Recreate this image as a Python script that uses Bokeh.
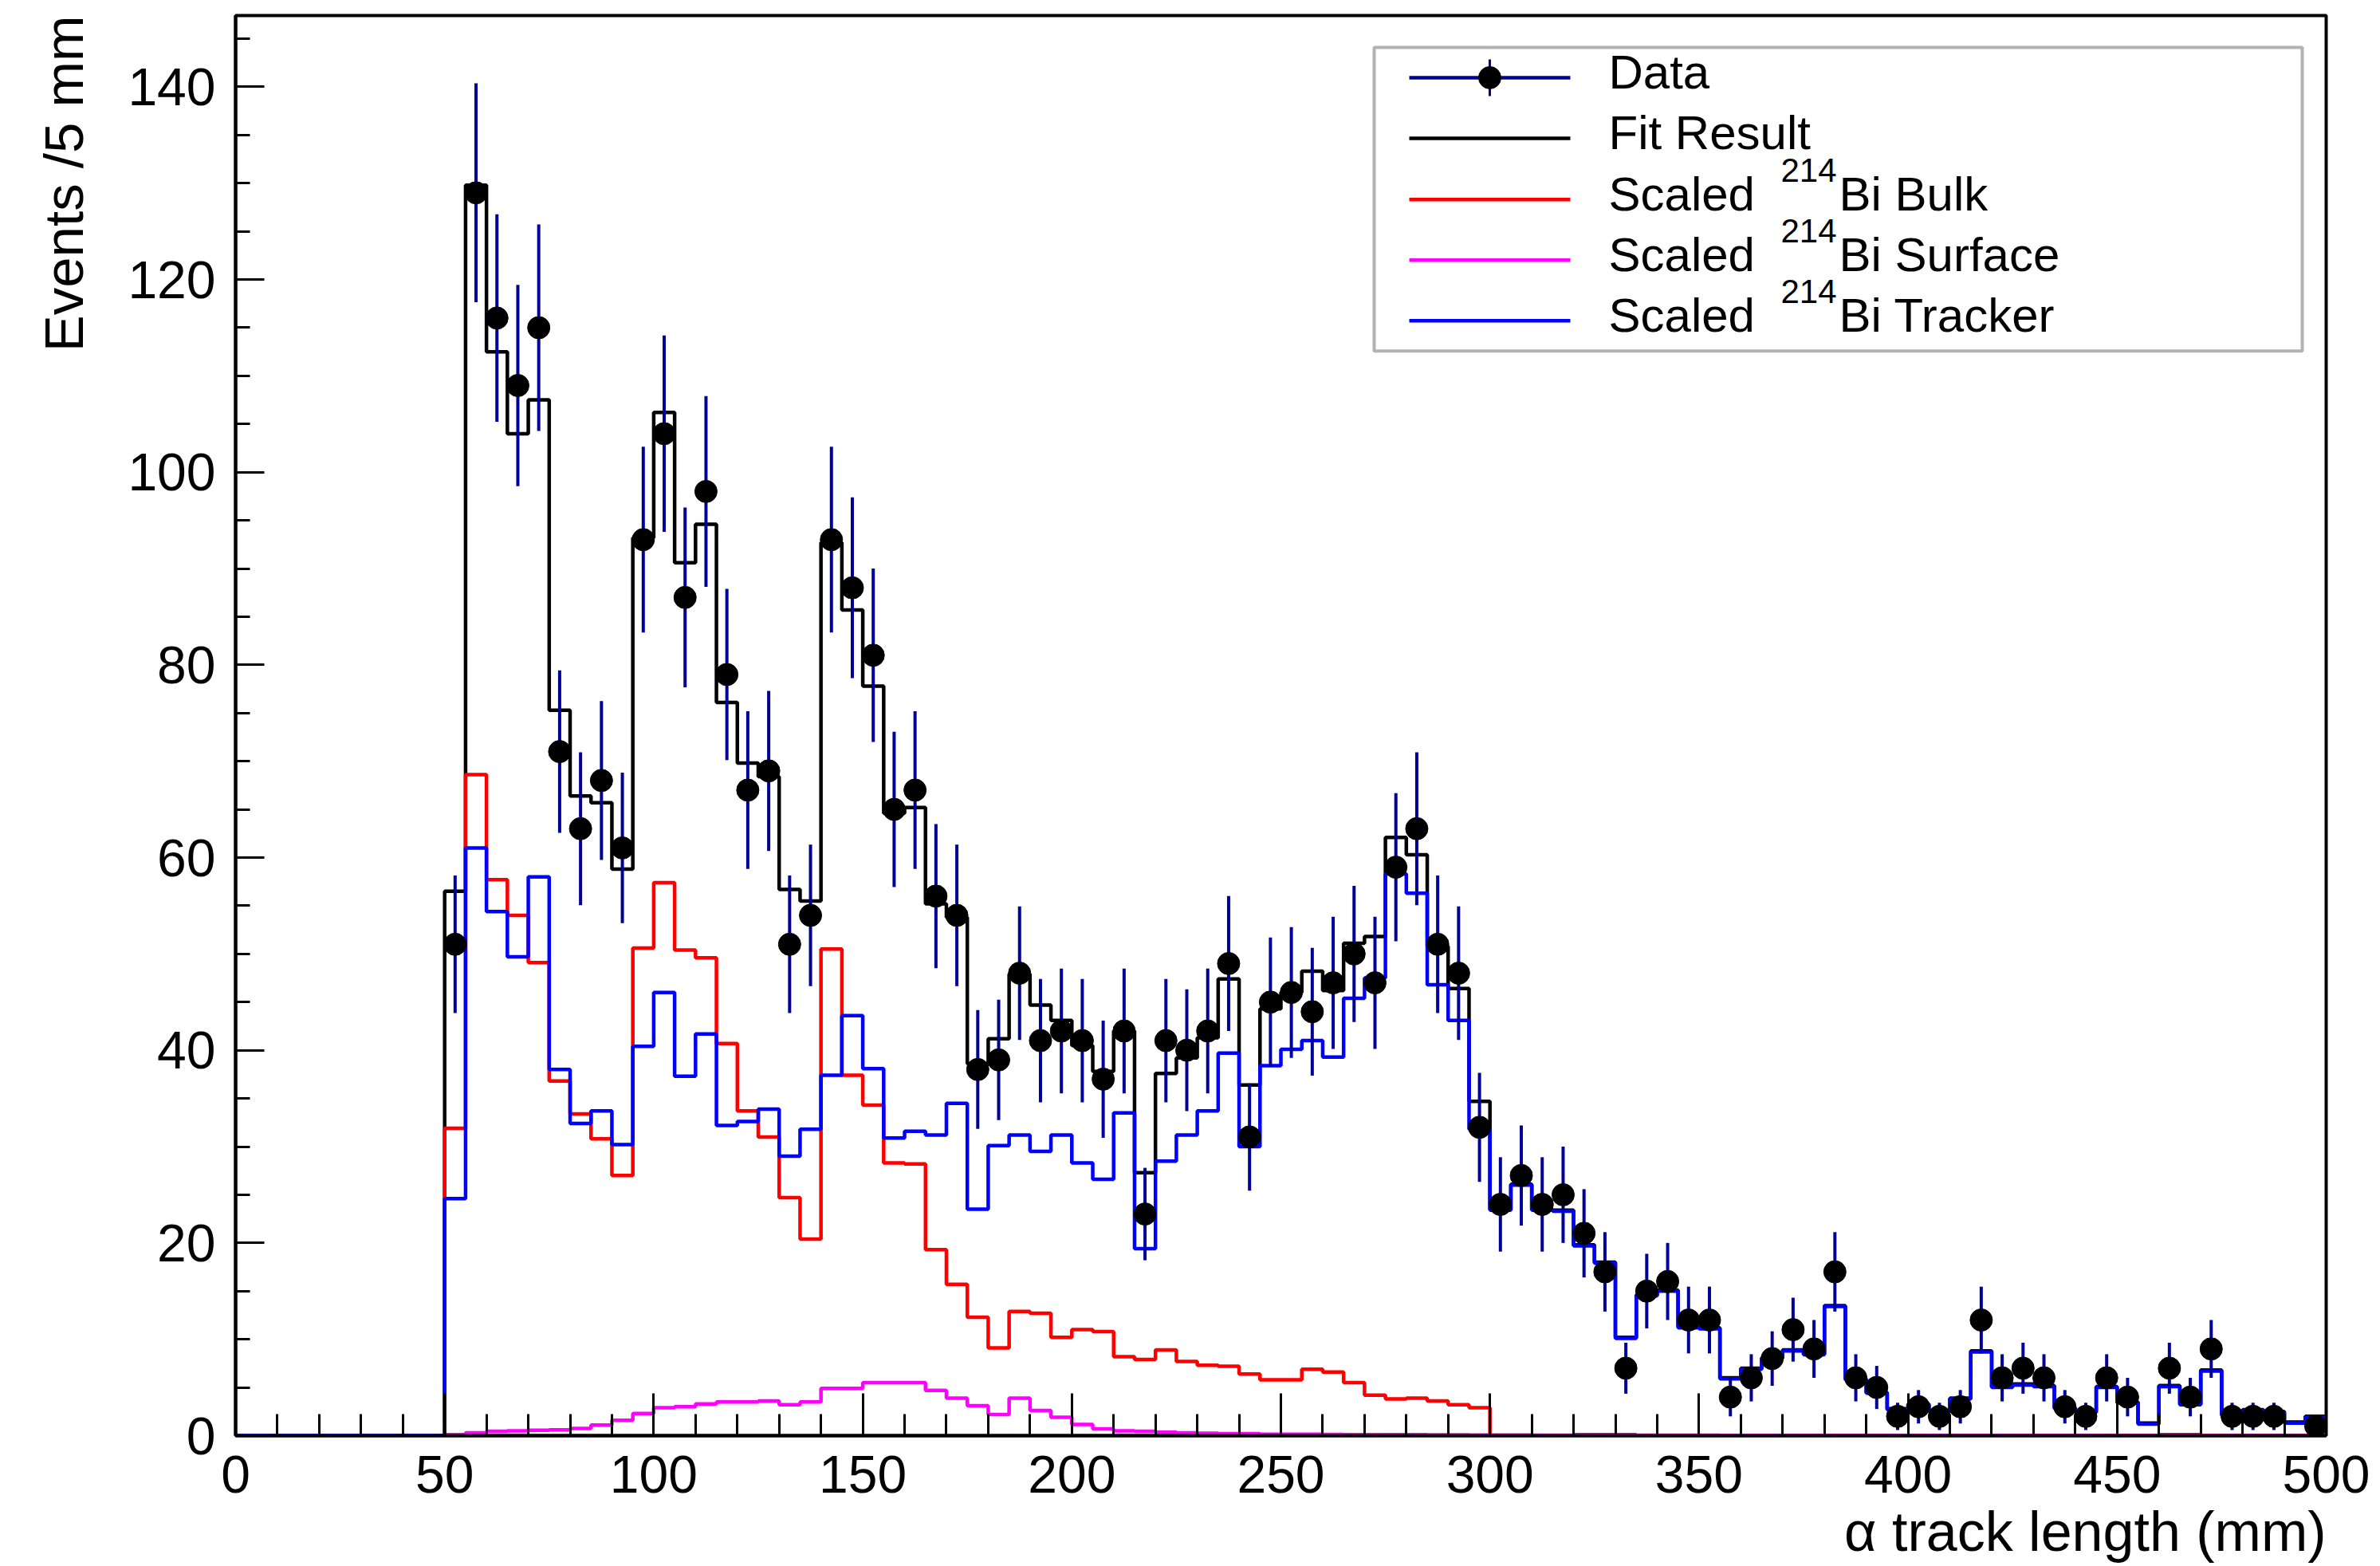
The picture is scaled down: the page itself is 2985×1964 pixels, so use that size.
import numpy as np
from bokeh.plotting import figure
from bokeh.models import Range1d, SingleIntervalTicker, Label, BoxAnnotation, Title
from bokeh.embed import file_html
from bokeh.resources import INLINE

# ---- histogram binning (mm) ----
bin_width = 5
x_lo, x_hi = 0, 500
y_top = 147.4
empty_bins_below_50mm = 10     # bins 0-50 mm carry no entries

# ---- per-bin contents, bins 50-55, 55-60, ..., 495-500 mm ----
data_counts = [
    51, 129, 116, 109, 115, 71, 63, 68, 61, 93,
    104, 87, 98, 79, 67, 69, 51, 54, 93, 88,
    81, 65, 67, 56, 54, 38, 39, 48, 41, 42,
    41, 37, 42, 23, 41, 40, 42, 49, 31, 45,
    46, 44, 47, 50, 47, 59, 63, 51, 48, 32,
    24, 27, 24, 25, 21, 17, 7, 15, 16, 12,
    12, 4, 6, 8, 11, 9, 17, 6, 5, 2,
    3, 2, 3, 12, 6, 7, 6, 3, 2, 6,
    4, 0, 7, 4, 9, 2, 2, 2, 0, 1,
]

fit_result = [
    56.5, 129.8, 112.5, 104.0, 107.5, 75.3, 66.4, 65.7, 58.8, 93.2,
    106.2, 90.6, 94.6, 76.1, 69.8, 68.4, 56.7, 55.5, 92.7, 85.7,
    77.8, 64.6, 65.2, 55.2, 53.8, 38.6, 41.2, 47.9, 44.7, 43.1,
    40.5, 37.8, 42.0, 27.3, 37.6, 39.2, 41.3, 47.4, 36.4, 44.3,
    46.0, 48.2, 46.2, 51.1, 51.8, 62.1, 60.3, 50.8, 46.4, 34.7,
    23.5, 26.1, 23.5, 23.4, 19.8, 18.0, 10.2, 14.6, 15.1, 11.3,
    11.2, 6.0, 7.0, 8.1, 8.9, 8.5, 13.5, 5.9, 4.5, 2.8,
    3.3, 2.6, 3.9, 8.8, 5.1, 5.35, 5.2, 2.9, 2.5, 5.1,
    3.5, 1.3, 5.2, 3.3, 6.8, 2.2, 2.7, 2.5, 1.4, 2.0,
]

bulk_bi214 = [
    31.9, 68.6, 57.7, 54.0, 49.1, 36.8, 33.4, 30.8, 27.0, 50.6,
    57.4, 50.4, 49.6, 40.7, 33.7, 31.0, 24.7, 20.4, 50.5, 37.4,
    34.3, 28.3, 28.2, 19.3, 15.7, 12.3, 9.1, 12.9, 12.7, 10.2,
    11.0, 10.8, 8.2, 7.9, 8.9, 7.7, 7.3, 7.2, 6.4, 5.8,
    5.8, 6.9, 6.6, 5.5, 4.2, 3.8, 3.9, 3.6, 3.2, 2.9,
    0.0, 0.0, 0.0, 0.0, 0.1, 0.1, 0.1, 0.0, 0.0, 0.0,
    0.0, 0.0, 0.0, 0.0, 0.0, 0.0, 0.0, 0.0, 0.0, 0.0,
    0.0, 0.0, 0.0, 0.0, 0.0, 0.0, 0.0, 0.0, 0.0, 0.0,
    0.0, 0.0, 0.1, 0.1, 0.0, 0.0, 0.0, 0.0, 0.0, 0.0,
]

surface_bi214 = [
    0.1, 0.3, 0.45, 0.5, 0.55, 0.6, 0.75, 1.1, 1.6, 2.3,
    2.9, 3.0, 3.3, 3.5, 3.5, 3.6, 3.2, 3.5, 4.9, 4.9,
    5.5, 5.5, 5.5, 4.7, 3.9, 3.1, 2.2, 3.9, 2.6, 1.9,
    1.15, 0.7, 0.5, 0.45, 0.35, 0.3, 0.25, 0.2, 0.2, 0.15,
    0.15, 0.15, 0.12, 0.1, 0.1, 0.1, 0.1, 0.08, 0.08, 0.07,
    0.06, 0.06, 0.05, 0.05, 0.05, 0.05, 0.04, 0.04, 0.04, 0.04,
    0.04, 0.03, 0.03, 0.03, 0.03, 0.03, 0.03, 0.02, 0.02, 0.02,
    0.02, 0.02, 0.02, 0.02, 0.02, 0.02, 0.02, 0.02, 0.01, 0.01,
    0.01, 0.01, 0.01, 0.01, 0.01, 0.01, 0.01, 0.01, 0.01, 0.01,
]

tracker_bi214 = [
    24.6, 61.0, 54.4, 49.7, 58.0, 38.0, 32.4, 33.7, 30.2, 40.4,
    46.0, 37.3, 41.7, 32.2, 32.6, 33.9, 29.0, 31.8, 37.4, 43.6,
    38.1, 30.9, 31.6, 31.2, 34.5, 23.5, 30.1, 31.2, 29.5, 31.2,
    28.3, 26.6, 33.5, 19.4, 28.5, 31.2, 33.7, 39.7, 30.0, 38.4,
    40.1, 41.0, 39.3, 45.4, 47.5, 58.3, 56.3, 46.8, 43.1, 31.8,
    23.4, 26.0, 23.4, 23.3, 19.7, 17.9, 10.1, 14.5, 15.0, 11.2,
    11.1, 5.9, 6.9, 8.0, 8.8, 8.4, 13.4, 5.8, 4.4, 2.7,
    3.2, 2.5, 3.8, 8.7, 5.0, 5.25, 5.1, 2.8, 2.4, 5.0,
    3.4, 1.2, 5.1, 3.2, 6.7, 2.1, 2.6, 2.4, 1.3, 1.9,
]

legend_labels = ["Data", "Fit Result", "Bulk", "Surface", "Tracker"]

# ---- canvas / frame geometry (pixels) ----
W, H = 2985, 1964
FRAME_L, FRAME_R, FRAME_T, FRAME_B = 295, 2917, 19, 1801
FONT = "Liberation Sans"


def sx(px):
    """horizontal canvas pixel -> x data value"""
    return x_lo + (px - FRAME_L) * (x_hi - x_lo) / (FRAME_R - FRAME_L)


def sy(py):
    """vertical canvas pixel (from top) -> y data value"""
    return y_top * (FRAME_B - py) / (FRAME_B - FRAME_T)


def full_hist(values):
    return np.concatenate([np.zeros(empty_bins_below_50mm), np.asarray(values, float)])


edges = np.arange(x_lo, x_hi + bin_width, bin_width)
centers = edges[:-1] + bin_width / 2

p = figure(
    width=W, height=H,
    min_border_left=FRAME_L, min_border_right=W - FRAME_R,
    min_border_top=FRAME_T, min_border_bottom=H - FRAME_B,
    x_range=Range1d(x_lo, x_hi), y_range=Range1d(0, y_top),
    output_backend="svg", toolbar_location=None, tools="",
    background_fill_color="white", border_fill_color="white",
)
p.xgrid.visible = False
p.ygrid.visible = False
p.outline_line_color = "black"
p.outline_line_width = 4

# axes: ROOT-like inward ticks
p.xaxis.ticker = SingleIntervalTicker(interval=50, num_minor_ticks=5)
p.yaxis.ticker = SingleIntervalTicker(interval=20, num_minor_ticks=4)
for ax, maj, mnr in ((p.xaxis, 53, 27), (p.yaxis, 36, 18)):
    ax.axis_line_color = "black"
    ax.axis_line_width = 4
    ax.major_tick_in = maj
    ax.major_tick_out = 0
    ax.minor_tick_in = mnr
    ax.minor_tick_out = 0
    ax.major_tick_line_width = 3
    ax.minor_tick_line_width = 3
    ax.major_tick_line_color = "black"
    ax.minor_tick_line_color = "black"
    ax.major_label_text_font = FONT
    ax.major_label_text_font_size = "66px"
    ax.major_label_text_color = "black"
p.xaxis.major_label_standoff = 25
p.yaxis.major_label_standoff = 25

# axis titles, right/top aligned as in ROOT
p.add_layout(Title(text="\u03b1 track length (mm)", align="right", standoff=10,
                   text_font=FONT, text_font_size="70px", text_font_style="normal",
                   text_color="black"), "below")
p.add_layout(Title(text="Events /5 mm", align="right", standoff=78,
                   text_font=FONT, text_font_size="69px", text_font_style="normal",
                   text_color="black"), "left")

# ---- histograms (drawn as steps) ----
def draw_hist(values, color):
    v = full_hist(values)
    p.step(edges, np.append(v, v[-1]), mode="after", line_color=color, line_width=4.5)


draw_hist(fit_result, "black")
draw_hist(bulk_bi214, "#ff0000")
draw_hist(surface_bi214, "#ff00ff")
draw_hist(tracker_bi214, "#0000ff")

# ---- data points with Poisson error bars ----
counts = full_hist(data_counts)
filled = counts > 0
xc = centers[filled]
yc = counts[filled]
err = np.sqrt(yc)
p.segment(x0=xc, y0=yc - err, x1=xc, y1=yc + err, line_color="#000099", line_width=4)
p.scatter(x=xc, y=yc, size=28, marker="circle", fill_color="black", line_color="black")

# ---- legend ----
p.add_layout(BoxAnnotation(left=sx(1723), right=sx(2887), top=sy(59), bottom=sy(440),
                           fill_color="white", fill_alpha=1.0,
                           line_color="black", line_width=4, level="underlay"))

row_py = [97, 173, 250, 326, 402]
line_x0, line_x1, text_x = sx(1767), sx(1969), sx(2017)
row_colors = ["#000099", "black", "#ff0000", "#ff00ff", "#0000ff"]

ly = [sy(v) for v in row_py]
p.segment(x0=[line_x0] * 5, y0=ly, x1=[line_x1] * 5, y1=ly,
          line_color=row_colors, line_width=4.5)
mid = sx(1868)
p.segment(x0=[mid], y0=[sy(row_py[0] - 23)], x1=[mid], y1=[sy(row_py[0] + 23)],
          line_color="#000099", line_width=3)
p.scatter(x=[mid], y=[sy(row_py[0])], size=28, fill_color="black", line_color="black")

leg_font = "60px"
sup_font = "42px"
for i, name in enumerate(legend_labels):
    base = row_py[i] - 7
    if i < 2:
        p.add_layout(Label(x=text_x, y=sy(base), text=name, text_align="left",
                           text_baseline="alphabetic", text_font=FONT,
                           text_font_size=leg_font, text_color="black"))
    else:
        p.add_layout(Label(x=text_x, y=sy(base), text="Scaled", text_align="left",
                           text_baseline="alphabetic", text_font=FONT,
                           text_font_size=leg_font, text_color="black"))
        p.add_layout(Label(x=sx(2233), y=sy(base - 30), text="214", text_align="left",
                           text_baseline="alphabetic", text_font=FONT,
                           text_font_size=sup_font, text_color="black"))
        p.add_layout(Label(x=sx(2306), y=sy(base), text="Bi " + name, text_align="left",
                           text_baseline="alphabetic", text_font=FONT,
                           text_font_size=leg_font, text_color="black"))

open("out.html", "w").write(file_html(p, INLINE))
